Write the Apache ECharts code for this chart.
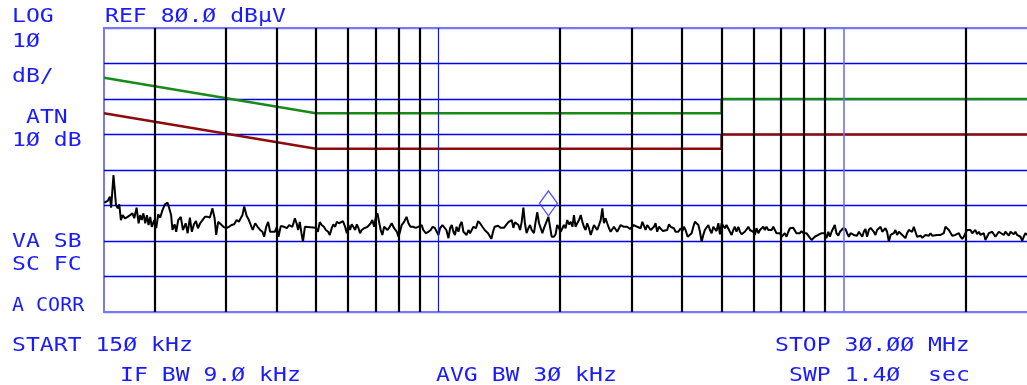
<!DOCTYPE html>
<html>
<head>
<meta charset="utf-8">
<script src="https://cdn.jsdelivr.net/npm/echarts@6/dist/echarts.min.js"></script>
<style>
  html, body { margin: 0; padding: 0; background: #ffffff; overflow: hidden; }
  #c { width: 1045px; height: 385px; }
</style>
</head>
<body>
<div id="c"></div>
<script>
// Measured spectrum: sweep frequency (MHz) and level (dBµV)
const traceFreqMHz = [
  0.1503,0.1532,0.1551,0.1562,0.1583,0.1606,0.1622,0.1636,0.1651,0.1667,
  0.1690,0.1715,0.1740,0.1763,0.1781,0.1805,0.1826,0.1842,0.1859,0.1876,
  0.1896,0.1914,0.1932,0.1950,0.1968,0.1995,0.2018,0.2041,0.2064,0.2091,
  0.2120,0.2153,0.2177,0.2196,0.2213,0.2240,0.2260,0.2286,0.2320,0.2349,
  0.2385,0.2412,0.2443,0.2470,0.2500,0.2529,0.2557,0.2590,0.2624,0.2661,
  0.2702,0.2737,0.2777,0.2811,0.2837,0.2869,0.2912,0.2955,0.3003,0.3048,
  0.3094,0.3142,0.3185,0.3226,0.3262,0.3293,0.3326,0.3371,0.3415,0.3452,
  0.3490,0.3540,0.3588,0.3640,0.3688,0.3725,0.3768,0.3810,0.3853,0.3958,
  0.4003,0.4041,0.4093,0.4173,0.4237,0.4292,
  0.4332,0.4373,0.4434,0.4477,0.4517,0.4560,0.4603,0.4643,0.4694,0.4739,
  0.4995,0.5052,0.5108,0.5164,0.5228,0.5288,0.5356,0.5407,0.5466,0.5517,
  0.5574,0.5628,0.5700,0.5763,0.5826,0.5899,0.5956,0.6013,0.6066,0.6123,
  0.6180,0.6244,0.6304,0.6364,0.6420,0.6481,0.6571,0.6698,0.6822,0.6885,
  0.6955,0.7022,0.7090,0.7153,0.7220,0.7287,0.7361,0.7433,0.7504,0.7600,
  0.7684,0.7791,0.7911,0.7986,0.8057,0.8133,0.8246,0.8359,0.8453,0.8546,
  0.8668,0.8812,0.8926,0.9026,0.9110,0.9195,0.9327,0.9469,0.9590,0.9695,
  0.9816,0.9927,1.0020,1.0114,1.0253,1.0368,1.0482,1.0608,1.0705,1.0807,
  1.0910,1.1006,1.1109,1.1228,1.1330,1.1438,1.1547,1.1649,1.1758,1.1884,
  1.1992,1.2107,1.2222,1.2330,
  1.2398,1.2549,1.2692,1.2864,1.3028,1.3150,1.3282,1.3411,1.3540,1.3661,
  1.3789,1.3918,1.4058,1.4275,1.4539,1.4755,1.4913,1.5049,1.5193,1.5337,
  1.5473,1.5617,1.5784,1.5928,1.6080,1.6233,1.6376,1.6529,1.6706,1.6858,
  1.7020,1.7238,1.7400,1.7561,1.7742,1.7913,1.8084,1.8244,1.8445,1.8715,
  1.8885,1.9066,1.9311,1.9492,1.9673,1.9875,2.0066,2.0258,2.0438,2.0630,
  2.0821,2.1036,2.1239,2.1442,2.1632,2.1835,2.2038,2.2264,2.2479,2.2694,
  2.2895,2.3110,2.3324,2.3565,2.3792,2.4019,2.4232,2.4460,2.4687,2.4941,
  2.5182,2.5422,2.5648,2.5889,2.6129,2.6398,2.6652,2.6907,2.7146,2.7400,
  2.7655,2.7939,2.8209,2.8731,2.9270,2.9739,3.0074,3.0410,3.0695,3.0980,
  3.1298,3.1600,3.1902,3.2185,3.2487,3.2789,3.3127,3.3446,3.3766,3.4066,
  3.4385,
  3.4705,3.5062,3.5400,3.5857,3.6254,3.6732,3.7109,3.7467,3.7825,3.8161,
  3.8519,3.9144,3.9655,4.0034,4.0390,4.0768,4.1265,4.1736,4.2207,4.2608,
  4.2984,4.3385,4.3850,4.4248,4.4672,4.5096,4.5494,4.5919,4.6410,4.6832,
  4.7281,4.7730,4.8152,4.8601,4.9122,4.9568,5.0043,5.0518,5.0965,5.1440,
  5.1990,5.2462,5.2965,5.3469,5.3941,5.4444,5.5026,5.5526,5.6058,5.6591,
  5.7091,5.7623,5.8241,5.8769,5.9333,5.9897,6.0425,6.0989,6.1641,6.2201,
  6.2798,6.3394,6.3954,6.4550,6.5242,6.5834,6.6465,6.7097,6.7689,6.8321,
  6.9052,6.9679,7.0348,7.1016,7.1643,7.2311,7.3086,7.3749,7.4457,7.5164,
  7.5827,7.6535,7.7353,7.8056,7.8804,7.9553,8.0255,8.1004,8.1872,8.2615,
  8.3408,8.4200,8.4943,8.5736,8.6654,8.7441,8.8279,8.9118,8.9904,9.0743,
  9.1714,9.2547,9.3435,9.4322,9.5155,9.6043,9.7071,9.7952,9.8892,9.9831,
  10.016,10.110,10.204,10.308,10.408,10.507,10.601,10.700,10.799,10.911,
  11.016,11.121,11.220,11.325,11.431,11.548,11.660,11.771,11.876,11.987,
  12.098,12.222,12.340,12.458,12.569,12.687,12.804,12.936,13.061,13.186,
  13.303,13.428,13.552,13.693,13.825,13.957,14.081,14.213,14.345,14.492,
  14.632,14.772,14.903,15.043,15.182,15.339,15.487,15.635,15.774,15.922,
  16.069,16.234,16.391,16.547,16.694,17.007,17.348,17.669,17.835,18.001,
  18.186,18.362,18.537,18.701,18.877,19.052,19.248,19.434,19.619,19.794,
  19.979,20.165,20.372,20.569,20.765,20.950,21.146,21.343,21.562,21.770,
  21.978,22.173,22.381,22.589,22.821,23.041,23.262,23.468,23.688,23.908,
  24.154,24.387,24.838,25.071,25.304,25.565,25.811,26.058,26.289,26.536,
  26.783,27.058,27.319,27.580,27.825,28.086,28.347
];
const traceLevel = [
  30.8,31.3,32.5,29.4,38.6,30.1,29.2,30.3,25.9,27.3,
  26.4,26.8,27.3,27.8,26.4,29.4,25.0,27.3,25.9,27.8,
  25.0,27.3,24.5,26.8,24.0,25.9,23.6,27.5,26.6,28.7,
  30.3,30.8,30.3,27.3,23.1,24.7,22.6,25.9,26.8,23.1,
  25.0,22.2,26.6,22.6,24.7,25.6,23.6,25.0,25.9,26.8,
  26.8,26.6,29.2,26.4,21.7,25.4,24.7,24.0,23.6,24.0,
  24.5,24.7,25.9,25.4,25.0,27.3,29.7,27.1,25.9,25.4,
  23.1,25.0,24.0,23.1,22.6,21.2,24.0,25.4,22.6,22.6,
  24.0,21.2,24.2,24.0,23.6,24.5,
  25.0,24.0,26.4,25.0,23.1,25.4,22.2,19.8,24.0,23.7,
  23.7,22.6,25.3,24.5,24.0,23.1,22.6,21.7,23.6,24.7,
  24.0,25.4,25.0,24.7,25.6,24.0,22.2,24.5,23.1,24.7,
  24.0,23.1,24.7,23.6,22.2,23.1,23.6,24.0,25.0,25.9,
  24.0,26.8,27.8,25.4,23.1,21.7,24.0,24.5,23.1,24.0,
  25.0,23.6,22.6,21.2,22.6,24.5,25.4,26.8,25.0,24.0,
  24.0,23.7,24.0,24.5,24.5,23.1,22.2,22.6,23.1,24.0,
  23.7,22.6,21.7,23.6,24.5,24.7,23.1,20.8,23.6,24.5,
  22.6,21.7,24.0,22.6,24.5,25.4,22.6,23.1,21.7,23.1,
  22.2,22.6,24.0,23.6,
  23.6,25.6,25.0,24.0,23.1,23.6,22.2,22.2,20.6,22.6,
  24.0,23.6,24.3,23.7,23.7,24.7,25.3,25.0,25.9,23.7,
  25.3,25.6,24.5,23.1,25.4,29.4,25.0,22.2,23.6,24.5,
  23.1,22.2,25.4,28.1,25.0,23.6,22.2,23.6,24.0,26.8,
  24.0,21.2,21.2,21.9,24.5,23.6,22.6,22.2,24.5,23.6,
  25.9,24.7,25.4,24.0,27.3,24.0,25.0,25.9,27.3,25.4,
  24.0,23.1,25.0,23.6,21.7,23.1,24.5,24.0,23.1,24.5,
  25.9,29.2,25.0,26.4,25.0,23.6,22.6,23.1,24.0,23.6,
  22.6,23.6,24.5,24.0,24.0,23.4,23.1,24.5,25.0,24.0,
  24.5,23.6,25.4,24.3,23.1,24.5,24.0,23.1,22.6,24.0,
  25.0,
  22.6,24.0,23.7,22.8,22.6,23.1,24.7,24.0,24.5,23.6,
  22.6,22.6,23.6,22.8,24.0,23.1,21.2,21.7,22.2,24.0,
  25.4,25.9,24.5,22.6,19.8,21.7,23.1,22.6,24.5,23.1,
  22.2,24.0,24.5,22.8,25.0,21.9,25.0,25.4,23.6,24.5,
  24.0,22.6,21.7,23.1,24.0,22.6,24.0,22.6,21.9,22.2,
  22.6,23.1,24.0,23.1,22.6,22.6,21.7,23.6,22.2,23.1,
  23.6,24.0,23.1,24.0,23.1,22.6,23.1,24.0,24.5,22.2,
  22.6,22.2,21.2,20.8,22.2,21.2,22.6,23.6,23.1,23.7,
  23.4,22.2,22.6,22.2,22.8,22.2,21.7,22.2,21.7,20.9,
  20.3,20.8,21.2,20.9,21.7,21.5,22.2,21.9,22.2,20.8,
  22.6,21.2,22.6,23.1,24.5,22.2,21.5,22.6,23.1,23.6,
  23.1,23.4,22.2,21.2,22.2,21.7,21.7,22.2,21.5,22.6,
  22.2,21.2,22.6,23.4,21.2,23.1,23.7,23.6,22.6,21.7,
  23.1,23.6,24.0,22.6,22.2,23.6,22.6,19.8,21.7,21.2,
  22.2,23.1,21.7,22.6,23.1,21.7,21.2,20.8,22.2,23.1,
  23.4,22.6,24.0,22.6,21.2,21.2,21.5,20.9,21.2,21.7,
  21.2,21.5,22.2,21.5,21.7,21.7,21.7,22.2,24.0,24.0,
  23.1,22.6,21.5,21.2,21.7,21.5,22.2,21.2,20.6,21.2,
  21.7,23.1,22.6,23.1,22.2,22.6,23.1,21.9,22.6,21.7,
  21.2,22.2,20.3,21.2,22.2,21.7,22.6,22.2,21.2,21.7,
  22.6,22.2,21.7,22.6,22.2,21.5,22.6,22.8,21.9,22.6,
  21.7,22.2,21.2,20.0,21.2,22.2,21.7
];

// Limit lines (quasi-peak and average), dBµV
const qpLimitFreq  = [0.15, 0.5, 5, 5, 30];
const qpLimitLevel = [66, 56, 56, 60, 60];
const avLimitFreq  = [0.15, 0.5, 5, 5, 30];
const avLimitLevel = [56, 46, 46, 50, 50];

// Marker
const markerFreq  = [1.8715];
const markerLevel = [26.8];

// Frequency graticule (MHz)
const lineGridFreq   = [0.2, 0.3, 0.4, 0.5, 0.6, 0.7, 0.8, 0.9, 2, 3, 4, 5, 6, 7, 8, 9, 20, 30];
const decadeGridFreq = [1, 10];

// Level axis: reference 80 dBµV, 10 dB/div
const levelMin = 0;
const levelMax = 80;
const levelStep = 10;

// Annotation texts
const panelLines = [
  { text: 'LOG',             x: 12,  y: 17,    scaled: true },
  { text: 'REF 8Ø.Ø dBµV',   x: 105, y: 17,    scaled: true },
  { text: '1Ø',              x: 12,  y: 42.2,  scaled: true },
  { text: 'dB/',             x: 12,  y: 76.4,  scaled: true },
  { text: 'ATN',             x: 26,  y: 118,   scaled: true },
  { text: '1Ø dB',           x: 12,  y: 140.4, scaled: true },
  { text: 'VA SB',           x: 12,  y: 241.4, scaled: true },
  { text: 'SC FC',           x: 12,  y: 265.2, scaled: true },
  { text: 'A CORR',          x: 12,  y: 305.7, scaled: false },
  { text: 'START 15Ø kHz',   x: 12,  y: 346,   scaled: true },
  { text: 'STOP 3Ø.ØØ MHz',  x: 775, y: 346,   scaled: true },
  { text: 'IF BW 9.Ø kHz',   x: 120, y: 375.5, scaled: true },
  { text: 'AVG BW 3Ø kHz',   x: 436, y: 375.5, scaled: true },
  { text: 'SWP 1.4Ø  sec',   x: 789, y: 375.5, scaled: true }
];

const TEXT_BLUE = '#1a1aff';
const GRID_BLUE = '#0000f0';
const EDGE_BLUE = '#7777ff';

const zip = (xs, ys) => xs.map((x, i) => [x, ys[i]]);

const gridLines = lineGridFreq.map(f => ({ xAxis: f, lineStyle: { color: '#000000', width: 2.2, type: 'solid' } }))
  .concat(decadeGridFreq.map((f, i) => ({ xAxis: f, lineStyle: { color: i === 0 ? '#1010ff' : '#6f6fff', width: i === 0 ? 1.2 : 1.6, type: 'solid' } })));

const splitColors = [];
for (let v = levelMin; v <= levelMax; v += levelStep) {
  splitColors.push(v === levelMin || v === levelMax ? EDGE_BLUE : GRID_BLUE);
}

const texts = panelLines.map(l => ({
  type: 'text',
  x: l.x,
  y: l.y,
  scaleX: l.scaled ? 1.155 : 1,
  silent: true,
  z: 10,
  style: {
    text: l.text,
    font: '20px "DejaVu Sans Mono"',
    fill: TEXT_BLUE,
    align: 'left',
    verticalAlign: 'middle',
    textAlign: 'left',
    textVerticalAlign: 'middle'
  }
}));

// The plot area runs a little past the right edge of the visible window (30 MHz column).
const chart = echarts.init(document.getElementById('c'), null, { renderer: 'canvas', width: 1045, height: 385 });

chart.setOption({
  animation: false,
  backgroundColor: '#ffffff',
  grid: {
    left: 104, top: 28, width: 933, height: 284,
    show: true, borderColor: EDGE_BLUE, borderWidth: 2, backgroundColor: 'transparent'
  },
  xAxis: {
    type: 'log', logBase: 10, min: 0.15, max: 30,
    axisLine: { show: false }, axisTick: { show: false }, axisLabel: { show: false },
    splitLine: { show: false }, minorTick: { show: false }, minorSplitLine: { show: false }
  },
  yAxis: {
    type: 'value', min: levelMin, max: levelMax, interval: levelStep,
    axisLine: { show: false }, axisTick: { show: false }, axisLabel: { show: false },
    splitLine: { show: true, lineStyle: { color: splitColors, width: 1.4 } }
  },
  series: [
    {
      name: 'graticule', type: 'line', data: [], z: 2, silent: true,
      markLine: {
        silent: true, symbol: ['none', 'none'], label: { show: false },
        emphasis: { disabled: true }, animation: false,
        data: gridLines
      }
    },
    {
      name: 'QP limit', type: 'line', data: zip(qpLimitFreq, qpLimitLevel),
      showSymbol: false, symbol: 'none', z: 3, silent: true,
      lineStyle: { color: '#178a17', width: 2.4 }
    },
    {
      name: 'AV limit', type: 'line', data: zip(avLimitFreq, avLimitLevel),
      showSymbol: false, symbol: 'none', z: 3, silent: true,
      lineStyle: { color: '#8c0c0c', width: 2.4 }
    },
    {
      name: 'trace', type: 'line', data: zip(traceFreqMHz, traceLevel),
      showSymbol: false, symbol: 'none', z: 4, silent: true,
      lineStyle: { color: '#000000', width: 2 }
    },
    {
      name: 'marker', type: 'scatter', data: zip(markerFreq, markerLevel),
      symbol: 'diamond', symbolSize: [18, 25], symbolOffset: [0, -13.5], z: 5, silent: true,
      itemStyle: { color: 'rgba(0,0,0,0)', borderColor: '#2a2aff', borderWidth: 1.3 }
    }
  ],
  graphic: texts
});
</script>
</body>
</html>
